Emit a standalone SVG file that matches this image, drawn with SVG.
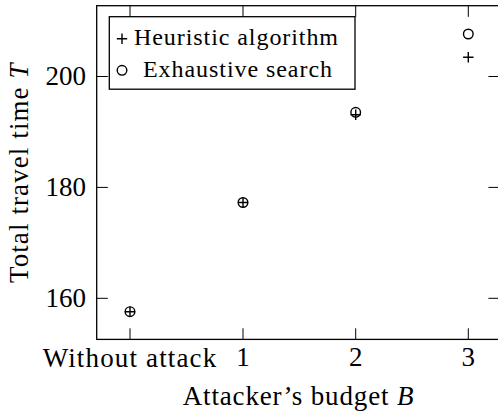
<svg xmlns="http://www.w3.org/2000/svg" width="498" height="413" viewBox="0 0 498 413">
<defs>
<style>
text{font-family:"Liberation Serif","Times New Roman",serif;fill:#000}
.lbl{font-size:27px}
.leg{font-size:24px}
.tick{stroke:#000;stroke-width:1;fill:none}
.axis{stroke:#000;stroke-width:1.3;fill:none}
.mk{stroke:#000;stroke-width:1.4;fill:none}
</style>
<g id="plusMark"><path d="M-5.2 0H5.2M0 -5.2V5.2"/></g>
<g id="circMark"><circle r="4.8"/></g>
</defs>
<rect width="498" height="413" fill="#fff"/>
<g id="axes">
<g class="tick">
<path d="M130 339.4V328.3M243 339.4V328.3M355.7 339.4V328.3M468.3 339.4V328.3"/>
<path d="M130 5.7V16.8M243 5.7V16.8M355.7 5.7V16.8M468.3 5.7V16.8"/>
<path d="M96.7 76.5H107.8M96.7 187.4H107.8M96.7 298.3H107.8"/>
<path d="M499.5 76.5H488.4M499.5 187.4H488.4M499.5 298.3H488.4"/>
</g>
<rect class="axis" x="96.7" y="5.7" width="402.8" height="333.7"/>
<g class="lbl" text-anchor="end">
<text x="86" y="85">200</text>
<text x="86" y="196">180</text>
<text x="86" y="307">160</text>
</g>
<g class="lbl" text-anchor="middle">
<text x="130" y="367" letter-spacing="1.15">Without attack</text>
<text x="243" y="366">1</text>
<text x="355.7" y="366">2</text>
<text x="468.3" y="366">3</text>
<text x="298.5" y="405" letter-spacing="0.85">Attacker’s budget <tspan font-style="italic">B</tspan></text>
<text transform="translate(28,172.7) rotate(-90)" letter-spacing="1.1">Total travel time <tspan font-style="italic">T</tspan></text>
</g>
</g>
<g id="heuristic" class="mk">
<use href="#plusMark" x="130" y="311.7"/>
<use href="#plusMark" x="243" y="202.5"/>
<use href="#plusMark" x="355.7" y="114.7"/>
<use href="#plusMark" x="468.3" y="57.3"/>
</g>
<g id="exhaustive" class="mk">
<use href="#circMark" x="130" y="311.7"/>
<use href="#circMark" x="243" y="202.5"/>
<use href="#circMark" x="355.7" y="112.3"/>
<use href="#circMark" x="468.3" y="34"/>
</g>
<g id="legend">
<rect x="109.3" y="16.7" width="245.7" height="72.5" fill="#fff" stroke="#000" stroke-width="1.3"/>
<use class="mk" href="#plusMark" x="122" y="38.7"/>
<use class="mk" href="#circMark" x="122" y="70.3"/>
<text class="leg" x="134" y="44.5" letter-spacing="0.93">Heuristic algorithm</text>
<text class="leg" x="143" y="76.5" letter-spacing="0.94">Exhaustive search</text>
</g>
</svg>
